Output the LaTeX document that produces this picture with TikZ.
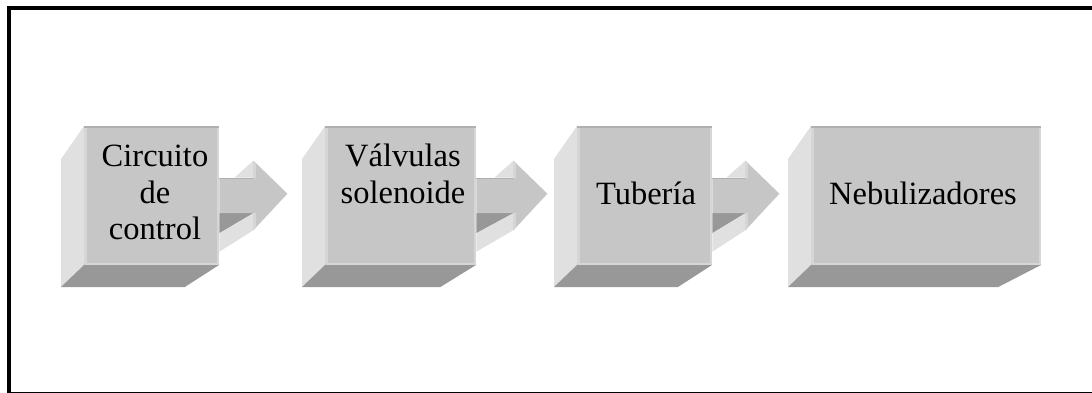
\documentclass[tikz,border=0pt]{standalone}
\usepackage{fontspec}
\setmainfont{Liberation Serif}
\begin{document}
\begin{tikzpicture}[x=1pt,y=-1pt,
  frontface/.style={fill=front,draw=none,inner sep=0pt,minimum height=139pt,anchor=north west},
  sideface/.style={fill=sidegray},
  bottomface/.style={fill=darkgray},
  labeltext/.style={font=\fontsize{32.5}{36.5}\selectfont,align=center,inner sep=0pt,text=black}]
\definecolor{front}{RGB}{198,198,198}
\definecolor{sidegray}{RGB}{224,224,224}
\definecolor{darkgray}{RGB}{152,152,152}
\definecolor{bevellight}{RGB}{214,214,214}
\definecolor{beveldark}{RGB}{176,176,176}
\useasboundingbox (0,0) rectangle (1092,392);
\clip (0,0) rectangle (1092,392);
% outer frame
\draw[line width=4pt] (9,8) rectangle (1098,393.6);

% extruded block: name, left x, right x
\newcommand{\solidblock}[3]{%
  \pgfmathsetmacro{\bo}{-22-0.09*(#3-#2)}%
  \fill[sideface] (#2,126) -- (#2-23,159) -- (#2-23,287) -- (#2,265) -- cycle;
  \fill[bottomface] (#2,265) -- (#3,265) -- ({#3+\bo},287) -- (#2-23,287) -- cycle;
  \pgfmathsetmacro{\bw}{#3-#2}%
  \node[frontface,minimum width=\bw pt] (#1) at (#2,126) {};
  \draw[bevellight,line width=2.5pt] ([xshift=1.5pt,yshift=-1pt]#1.north west) -- ([xshift=1.5pt,yshift=1pt]#1.south west);
  \draw[bevellight,line width=2pt] ([xshift=1pt,yshift=1pt]#1.south west) -- ([xshift=-1pt,yshift=1pt]#1.south east);
  \draw[bevellight,line width=2pt] ([xshift=-1pt,yshift=-1pt]#1.north east) -- ([xshift=-1pt,yshift=1pt]#1.south east);
  \draw[beveldark,line width=1.5pt] ([yshift=-0.75pt]#1.north west) -- ([yshift=-0.75pt]#1.north east);
}

% extruded arrow drawn from the east side of a block
\newcommand{\solidarrow}[2]{%
  \begin{scope}[shift={(#1.east)}]
    \fill[sideface] (#2,-35) -- (#2,-18) -- (#2-19,-18) -- cycle;
    \fill[bottomface] (0,17.5) -- (#2,17.5) -- (0,37.5) -- cycle;
    \fill[sideface] (0,37.5) -- (#2,17.5) -- (#2,34.5) -- (0,56) -- cycle;
    \fill[front] (0,-17.5) -- (#2,-17.5) -- (#2,-35) -- (#2+34,-2) -- (#2,34.5) -- (#2,17.5) -- (0,17.5) -- cycle;
    \fill[bevellight] (#2,-35) -- (#2+2.5,-32.6) -- (#2+2.5,-17.5) -- (#2,-17.5) -- cycle;
    \fill[bevellight] (#2,17.5) -- (#2+2.5,17.5) -- (#2+2.5,32.2) -- (#2,34.5) -- cycle;
    \draw[beveldark,line width=1.2pt] (0,-17) -- (#2,-17);
  \end{scope}
}

\solidblock{b1}{84}{219}
\solidblock{b2}{325}{476}
\solidblock{b3}{577}{712}
\solidblock{b4}{811}{1041}

\solidarrow{b1}{34}
\solidarrow{b2}{37}
\solidarrow{b3}{33}

\node[labeltext] (t1) at (155,192.5) {Circuito\\de\\control};
\node[labeltext] (t2) at (403,174) {Válvulas\\solenoide};
\node[labeltext,anchor=base] (t3) at (646,204) {Tubería};
\node[labeltext,anchor=base] (t4) at (923,204) {Nebulizadores};
\end{tikzpicture}
\end{document}
